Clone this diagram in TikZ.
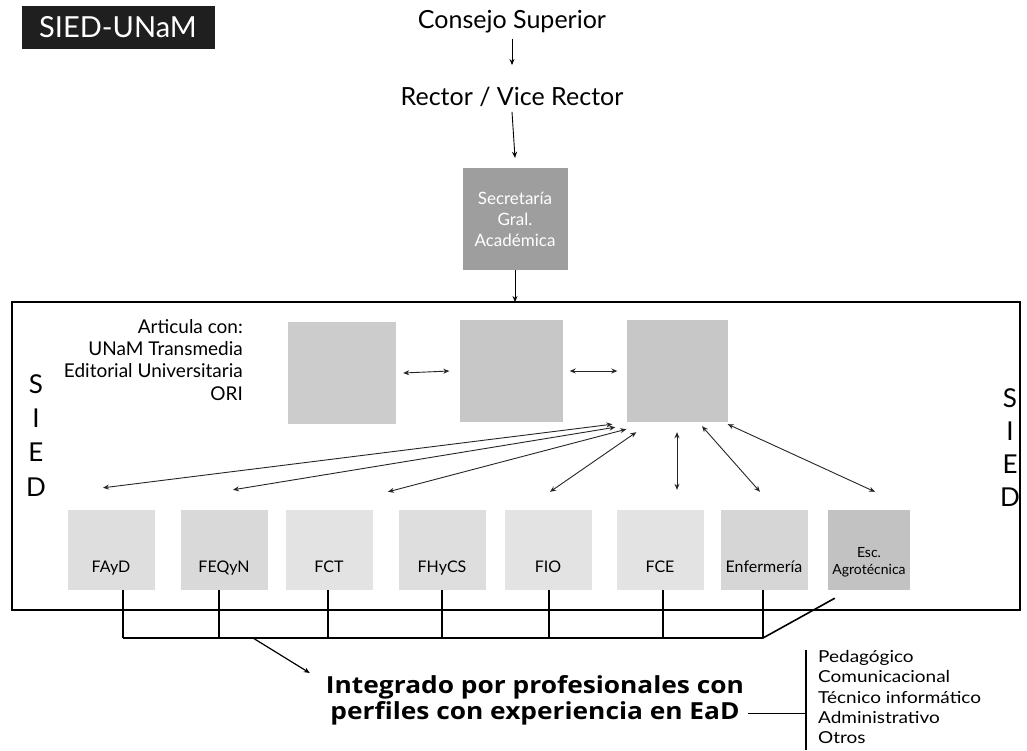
\documentclass[tikz,border=0pt]{standalone}
\usepackage{fontspec}
\setmainfont{Lato}
\newfontfamily\anchafont[FakeStretch=1.12]{Open Sans}
\newfontfamily\listafont[FakeStretch=1.15]{Lato}
\usetikzlibrary{arrows.meta,calc}
\tikzset{
  arr/.style={-{Stealth[length=6pt,width=5pt]},line width=0.9pt},
  darr/.style={{Stealth[length=6pt,width=5pt]}-{Stealth[length=6pt,width=5pt]},line width=0.9pt,black!85},
  link/.style={line width=1.6pt},
  grisbox/.style={fill=black!22,minimum width=#1,minimum height=102pt,inner sep=0pt},
  facbox/.style={fill=black!13,minimum width=87pt,minimum height=80pt,inner sep=0pt},
  titulo/.style={font=\fontsize{25}{28}\selectfont,inner sep=1pt},
  letra/.style={font=\fontsize{26}{30}\selectfont,inner sep=0pt},
  faclbl/.style={font=\fontsize{16}{17}\selectfont,align=center,inner sep=0pt,text height=11pt,text depth=3pt}
}
\begin{document}
\begin{tikzpicture}[x=1pt,y=-1pt]
    \useasboundingbox[fill=white] (0,0) rectangle (1027,750);

    % encabezado
    \node[fill=black!88,text=white,font=\fontsize{29}{32}\selectfont,minimum width=193pt,minimum height=43pt,inner sep=0pt] (logo) at (118,27) {SIED-UNaM};
    \node[titulo] (consejo) at (512,22) {Consejo Superior};
    \node[titulo] (rector) at (512,97) {Rector / Vice Rector};
    \node[fill=black!38,text=white,minimum width=105pt,minimum height=102pt,align=center,font=\fontsize{17}{21}\selectfont] (sec) at (515,219) {Secretaría\\Gral.\\Académica};
    \draw[arr] ([yshift=-4pt]consejo.south) -- ([yshift=21pt]rector.north);
    \draw[arr] ([yshift=-4pt]rector.south) -- ([yshift=10pt]sec.north);
    \coordinate (marco) at (515,302);
    \draw[arr] (sec.south) -- (marco);

    % marco SIED
    \draw[line width=2.4pt] (12,302) rectangle (1020,610);
    \node[anchor=north east,align=right,font=\fontsize{19}{22.3}\selectfont,inner sep=0pt] (articula) at (243,319)
        {Articula con:\\UNaM Transmedia\\Editorial Universitaria\\ORI};
    \foreach \l/\y in {S/384,I/418,E/452,D/487} {
        \node[letra] (izq\l) at (36,\y) {\l};
    }
    \foreach \l/\y in {S/398,I/431,E/464,D/497} {
        \node[letra] (der\l) at (1010,\y) {\l};
    }

    \node[grisbox=108pt,fill=black!20] (midA) at (342,373) {};
    \node[grisbox=103pt] (midB) at (511,371) {};
    \node[grisbox=101pt] (midC) at (677,371) {};
    \draw[darr] ([xshift=7pt]midA.east) -- ([xshift=-10pt]midB.west);
    \draw[darr] ([xshift=7pt]midB.east) -- ([xshift=-9pt]midC.west);

    % facultades
    \foreach \n/\x/\txt/\g in {fayd/111/FAyD/13, feqyn/224/FEQyN/15, fct/329/FCT/11,
        fhycs/442/FHyCS/13, fio/548/FIO/11, fce/660/FCE/11, enf/764/Enfermería/16} {
        \node[facbox,fill=black!\g] (\n) at (\x,550) {};
        \node[faclbl] (\n-lbl) at ([yshift=22pt]\n.south) {\txt};
    }
    \node[facbox,fill=black!24,minimum width=82pt] (esc) at (869,550) {};
    \node[faclbl,font=\fontsize{14}{17}\selectfont,text height=,text depth=] (esc-lbl) at ([yshift=28pt]esc.south) {Esc.\\Agrotécnica};

    % vinculos con la comision
    \draw[darr] ([xshift=-14pt,yshift=-2pt]midC.south west) -- ([xshift=-8pt,yshift=22pt]fayd.north);
    \draw[darr] ([xshift=-11pt,yshift=-5pt]midC.south west) -- ([xshift=9pt,yshift=20pt]feqyn.north);
    \draw[darr] ([xshift=0pt,yshift=-7pt]midC.south west) -- ([xshift=-54pt,yshift=18pt]fhycs.north);
    \draw[darr] ([xshift=10pt,yshift=-10pt]midC.south west) -- ([xshift=2pt,yshift=18pt]fio.north);
    \draw[darr] ([yshift=-10pt]midC.south) -- ([xshift=17pt,yshift=20pt]fce.north);
    \draw[darr] ([xshift=25pt,yshift=-4pt]midC.south) -- ([xshift=-4pt,yshift=18pt]enf.north);
    \draw[darr] ([xshift=0pt,yshift=-2pt]midC.south east) -- ([xshift=6pt,yshift=18pt]esc.north);

    % barra inferior
    \coordinate (barraI) at (123,638);
    \coordinate (barraD) at (763,638);
    \coordinate (barraA) at (253,638);
    \foreach \n/\dx in {fayd/12, feqyn/-5, fct/-1, fhycs/0, fio/1, fce/3, enf/-1} {
        \draw[link] ([xshift=\dx pt]\n.south) -- ([xshift=\dx pt]\n.south |- barraI);
    }
    \draw[link] (barraI) -- (barraD) -- ([xshift=7pt,yshift=-8pt]esc.south west);

    % perfiles
    \node[font=\anchafont\bfseries\fontsize{23.5}{26}\selectfont,align=center,inner sep=0pt] (integ) at (535,700)
        {Integrado por profesionales con\\perfiles con experiencia en EaD};
    \draw[arr,line width=1.2pt] (barraA) -- ([xshift=-16pt,yshift=2pt]integ.north west);
    \node[anchor=west,align=left,font=\listafont\fontsize{16.5}{20.3}\selectfont,inner sep=0pt] (perfiles) at (818,697)
        {Pedagógico\\Comunicacional\\Técnico informático\\Administrativo\\Otros};
    \coordinate (barraP) at (806,650);
    \draw[line width=1.2pt] (barraP) -- (barraP |- 0,750);
    \draw[line width=1pt] ([xshift=4pt,yshift=-13pt]integ.east) -- (barraP |- 0,713);
\end{tikzpicture}
\end{document}
